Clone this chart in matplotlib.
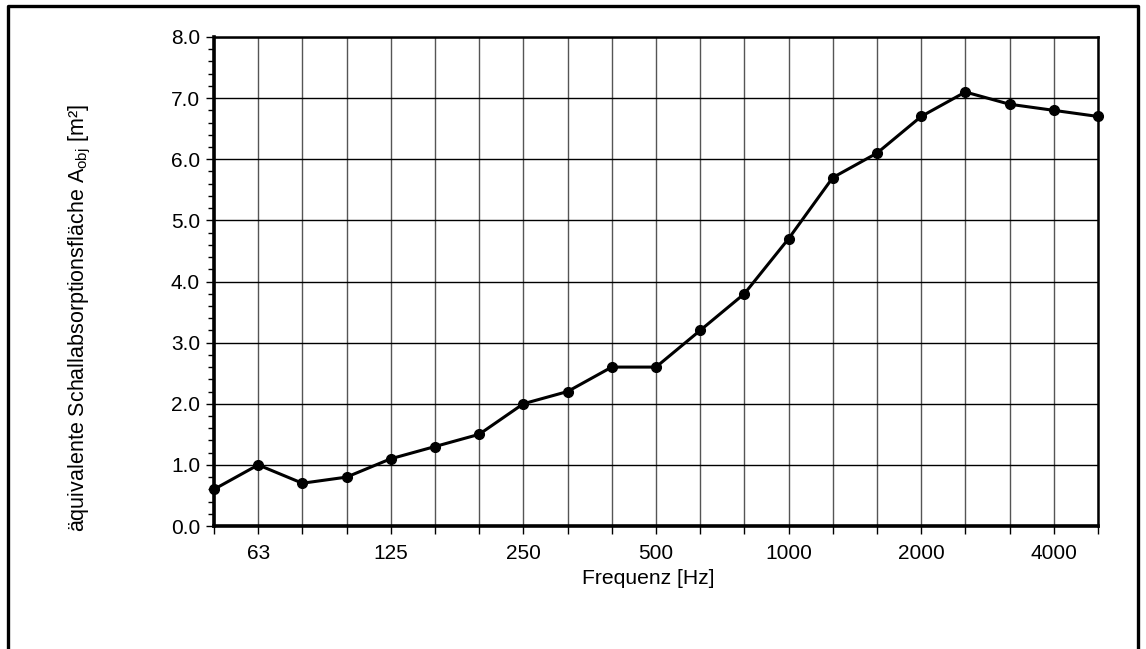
import numpy as np
import matplotlib
matplotlib.use('Agg')
from matplotlib import pyplot as plt
from matplotlib.lines import Line2D

plt.rcParams['font.family'] = ['Liberation Sans', 'DejaVu Sans']
plt.rcParams['mathtext.fontset'] = 'custom'
plt.rcParams['mathtext.rm'] = 'Liberation Sans'
plt.rcParams['mathtext.it'] = 'Liberation Sans'

# third-octave bands 50 Hz .. 5000 Hz
bands = [50, 63, 80, 100, 125, 160, 200, 250, 315, 400, 500,
         630, 800, 1000, 1250, 1600, 2000, 2500, 3150, 4000, 5000]
a_obj = [0.6, 1.0, 0.7, 0.8, 1.1, 1.3, 1.5, 2.0, 2.2, 2.6, 2.6,
         3.2, 3.8, 4.7, 5.7, 6.1, 6.7, 7.1, 6.9, 6.8, 6.7]
labelled = [63, 125, 250, 500, 1000, 2000, 4000]

fig = plt.figure(figsize=(11.46, 6.49), dpi=100)
ax = fig.add_axes([0.1867, 0.1895, 0.7714, 0.7535])

x = np.arange(len(bands))
ax.plot(x, a_obj, color='black', lw=2.2, marker='o', ms=7, zorder=3, clip_on=False)

ax.set_xlim(0, len(bands) - 1)
ax.set_ylim(0, 8)
ax.set_xticks(x)
ax.set_xticklabels([str(b) if b in labelled else '' for b in bands])
ax.set_yticks(np.arange(0, 8.1, 1.0))
ax.set_yticklabels(['%.1f' % v for v in np.arange(0, 8.1, 1.0)])
ax.set_yticks(np.arange(0, 8.01, 0.2), minor=True)

ax.tick_params(axis='both', direction='out', labelsize=15, color='black', width=1.0)
ax.tick_params(axis='x', length=6, pad=7)
ax.tick_params(axis='y', which='major', length=6, pad=4)
ax.tick_params(axis='y', which='minor', length=4, width=1.0)

ax.grid(axis='y', which='major', color='black', lw=1.0)
ax.grid(axis='x', which='major', color='#555555', lw=1.0)
ax.set_axisbelow(True)

for side in ['left', 'bottom']:
    ax.spines[side].set_linewidth(2.6)
for side in ['top', 'right']:
    ax.spines[side].set_linewidth(1.8)

ax.set_xlabel('Frequenz [Hz]', fontsize=15.2)
ax.xaxis.set_label_coords(0.491, -0.088)
ax.set_ylabel('äquivalente Schallabsorptionsfläche A$_{\\mathrm{obj}}$ [m²]', fontsize=15.5)
ax.yaxis.set_label_coords(-0.137, 0.425)

# outer frame, open at the bottom
W, H = 1146.0, 649.0
fig.add_artist(Line2D([8 / W, 8 / W, 1138 / W, 1138 / W],
                      [-0.1, 1 - 6 / H, 1 - 6 / H, -0.1],
                      transform=fig.transFigure, color='black', lw=2.4))

fig.savefig('out.png', dpi=100)
